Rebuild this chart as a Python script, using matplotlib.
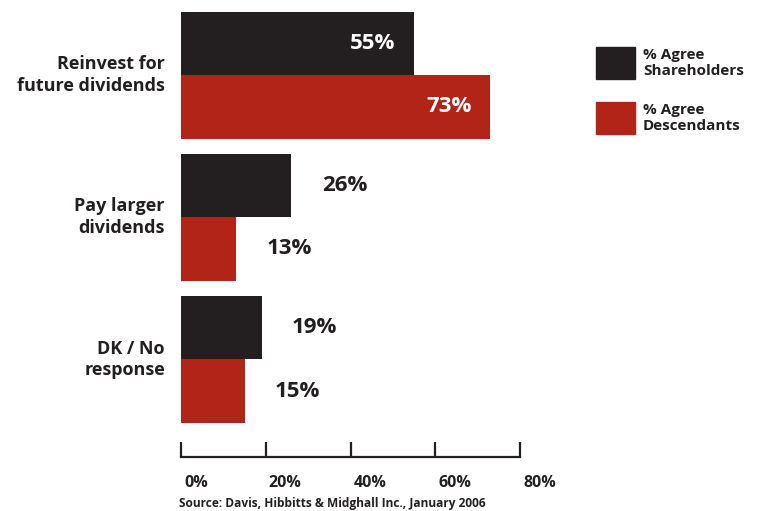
import matplotlib
matplotlib.use("Agg")
import matplotlib.pyplot as plt
import matplotlib.transforms as mtrans
import numpy as np

categories = ["Reinvest for\nfuture dividends", "Pay larger\ndividends", "DK / No\nresponse"]
shareholders = [55, 26, 19]
descendants = [73, 13, 15]
series_names = ["% Agree\nShareholders", "% Agree\nDescendants"]
tick_values = [0, 20, 40, 60, 80]
tick_labels = ["0%", "20%", "40%", "60%", "80%"]
source = "Source: Davis, Hibbitts & Midghall Inc., January 2006"

BLACK = "#231f20"
RED = "#b22418"
FONT = "Open Sans"
WEIGHT = "bold"

W, H = 766, 511
fig = plt.figure(figsize=(W / 100, H / 100), dpi=100)
# axes: x from 181 px (0%) to 520 px (80%), bottom spine at y=457 px
ax = fig.add_axes([181 / W, (H - 457) / H, 339 / W, 457 / H])

pos = np.arange(len(categories))
bar_h = 0.447
ax.barh(pos - bar_h / 2, shareholders, height=bar_h, color=BLACK)
ax.barh(pos + bar_h / 2, descendants, height=bar_h, color=RED)
ax.set_xlim(0, 80)
ax.set_ylim(2.687, -0.528)

# value labels: inside for the long bars, outside otherwise
for vals, off in ((shareholders, -bar_h / 2), (descendants, bar_h / 2)):
    for i, v in enumerate(vals):
        if v > 40:
            ax.text(v - 4.5, i + off, f"{v}%", ha="right", va="center",
                    color="white", fontsize=16, fontweight=WEIGHT, family=FONT)
        else:
            ax.text(v + 7.2, i + off, f"{v}%", ha="left", va="center",
                    color=BLACK, fontsize=16, fontweight=WEIGHT, family=FONT)

for i, c in enumerate(categories):
    ax.text(-3.8, i, c, ha="right", va="center", fontsize=13, fontweight=WEIGHT,
            family=FONT, color=BLACK, linespacing=1.25)

for s in ("top", "right", "left"):
    ax.spines[s].set_visible(False)
ax.spines["bottom"].set_linewidth(1.6)
ax.spines["bottom"].set_color(BLACK)
ax.set_yticks([])
ax.set_xticks(tick_values)
ax.set_xticklabels(tick_labels, ha="left", fontsize=11.5, fontweight=WEIGHT,
                   family=FONT, color=BLACK)
ax.tick_params(axis="x", direction="in", length=11, width=1.6, color=BLACK, pad=13)
offset = mtrans.ScaledTranslation(3 / 100, 0, fig.dpi_scale_trans)
for lbl in ax.get_xticklabels():
    lbl.set_transform(lbl.get_transform() + offset)

# legend drawn as squares with text
for k, (name, col) in enumerate(zip(series_names, (BLACK, RED))):
    y0 = 47 + 55 * k
    fig.patches.append(plt.Rectangle((596 / W, (H - y0 - 32) / H), 39 / W, 32 / H,
                                     color=col, transform=fig.transFigure))
    fig.text(643 / W, (H - y0 - 16) / H, name, ha="left", va="center", fontsize=11,
             fontweight=WEIGHT, family=FONT, color=BLACK, linespacing=1.2)

fig.text(179 / W, (H - 503) / H, source, ha="left", va="center", fontsize=8.6,
         fontweight=WEIGHT, family=FONT, color=BLACK)

fig.savefig("out.png", dpi=100)
